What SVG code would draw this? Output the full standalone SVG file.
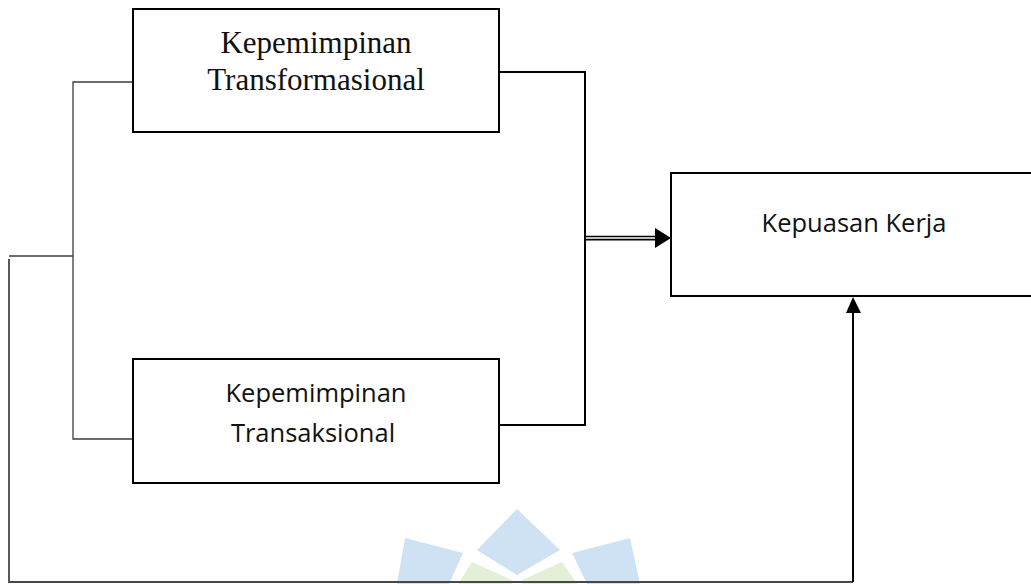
<svg xmlns="http://www.w3.org/2000/svg" width="1031" height="584" viewBox="0 0 1031 584">
<style>
  .box { fill: #ffffff; stroke: #000000; stroke-width: 2; }
  .serif { font-family: "Liberation Serif", "Times New Roman", serif; font-size: 31px; fill: #111; text-anchor: middle; }
  .sans { font-family: "Open Sans", "Noto Sans", sans-serif; font-size: 25.5px; fill: #111; text-anchor: middle; }
  .thin { fill: none; stroke: #3c3c3c; stroke-width: 1.3; }
  .grey { fill: none; stroke: #474747; stroke-width: 1.8; }
  .bold { fill: none; stroke: #000000; stroke-width: 2; }
  .wm-blue { fill: #cfe2f3; }
  .wm-green { fill: #e3efd7; }
</style>
<defs>
  <marker id="arrowR" markerWidth="16" markerHeight="20" refX="16" refY="10" orient="auto" markerUnits="userSpaceOnUse">
    <path d="M0,0 L16,10 L0,20 Z" fill="#000"/>
  </marker>
  <marker id="arrowU" markerWidth="16" markerHeight="16" refX="16" refY="8" orient="auto" markerUnits="userSpaceOnUse">
    <path d="M0,0 L16,8 L0,16 Z" fill="#000"/>
  </marker>
</defs>
<rect x="0" y="0" width="1031" height="584" fill="#ffffff"/>

<g id="watermark">
  <polygon class="wm-blue" points="517,509 560,550 517,575 477,550"/>
  <polygon class="wm-blue" points="405,538 463,553 449,584 397,584"/>
  <polygon class="wm-blue" points="630,538 572,553 587,584 640,584"/>
  <polygon class="wm-green" points="472,562 512,580 512,584 458,584"/>
  <polygon class="wm-green" points="562,562 522,580 522,584 577,584"/>
</g>

<g id="connectors">
  <polyline class="thin" points="133,82 73,82 73,439 133,439"/>
  <line class="thin" x1="9" y1="256" x2="73" y2="256"/>
  <polyline class="grey" points="9,259 9,582 853,582"/>
  <line class="bold" x1="853" y1="582" x2="853" y2="312"/>
  <path d="M846,313 L853,297 L861,313 Z" fill="#000"/>
  <polyline class="bold" points="499,72 585,72 585,425 499,425"/>
  <line x1="585" y1="236.5" x2="658" y2="236.5" stroke="#000" stroke-width="1.6"/>
  <line x1="585" y1="239.6" x2="658" y2="239.6" stroke="#000" stroke-width="1.6"/>
  <path d="M655,228 L671,238 L655,248 Z" fill="#000"/>
</g>

<g id="node-transformasional">
  <rect class="box" x="133" y="9" width="366" height="123"/>
  <text class="serif" x="316" y="53">Kepemimpinan</text>
  <text class="serif" x="316" y="90">Transformasional</text>
</g>

<g id="node-transaksional">
  <rect class="box" x="133" y="359" width="366" height="124"/>
  <text class="sans" x="316" y="402">Kepemimpinan</text>
  <text class="sans" x="313" y="442">Transaksional</text>
</g>

<g id="node-kepuasan">
  <rect class="box" x="671" y="173" width="362" height="123"/>
  <text class="sans" x="854" y="232">Kepuasan Kerja</text>
</g>
</svg>
